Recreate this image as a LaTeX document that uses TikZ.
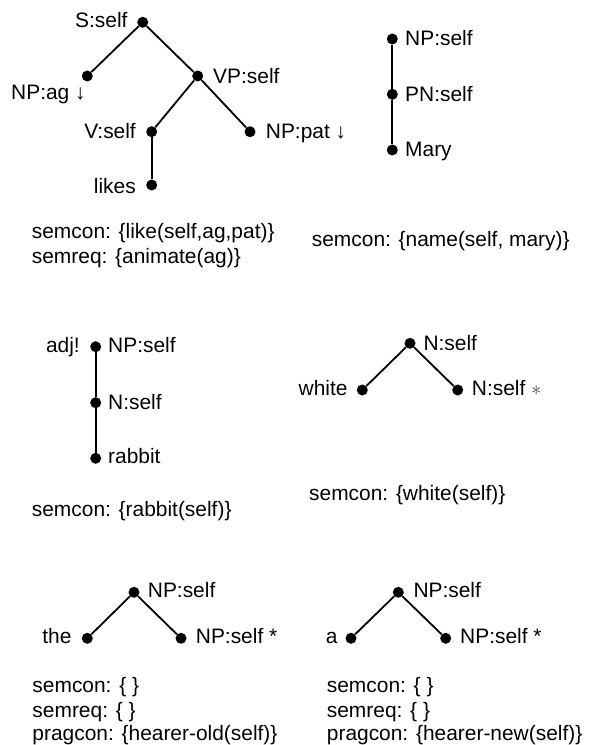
\documentclass[tikz,border=0pt]{standalone}
\usepackage{fontspec}
\setmainfont{Liberation Sans}
\begin{document}
\begin{tikzpicture}[x=1bp,y=-1bp,
  dot/.style={circle,fill=black,inner sep=0pt,minimum size=11bp},
  edge/.style={line width=1.8bp},
  lbl/.style={inner sep=0pt,font=\fontsize{21}{25}\selectfont},
  lw/.style={lbl,anchor=base west},
  le/.style={lbl,anchor=base east}]
\useasboundingbox[fill=white] (0,0) rectangle (589,745);

% Tree 1: likes
\node[dot] (s) at (142.7,22.3) {};
\node[dot] (npag) at (87.3,76) {};
\node[dot] (vp) at (197.7,76) {};
\node[dot] (v) at (151.7,131.7) {};
\node[dot] (likes) at (151.7,185) {};
\node[dot] (nppat) at (250,131.7) {};
\draw[edge] (s) -- (npag);
\draw[edge] (s) -- (vp);
\draw[edge] (vp) -- (v);
\draw[edge] (vp) -- (nppat);
\draw[edge] (v) -- (likes);
\node[le] (ls) at (127.7,27.3) {S:self};
\node[lw] (lnpag) at (11,99.3) {NP:ag ↓};
\node[lw] (lvp) at (213,83.3) {VP:self};
\node[le] (lv) at (136,138.3) {V:self};
\node[le] (llikes) at (136,193) {likes};
\node[lw] (lnppat) at (265.7,138.3) {NP:pat ↓};
\node[lw] (t1a) at (31.7,238.3) {semcon: \{like(self,ag,pat)\}};
\node[lw] (t1b) at (31.7,263.3) {semreq: \{animate(ag)\}};

% Tree 2: Mary
\node[dot] (np2) at (392.3,39) {};
\node[dot] (pn2) at (392.3,94.3) {};
\node[dot] (mary) at (392.3,150) {};
\draw[edge] (np2) -- (pn2);
\draw[edge] (pn2) -- (mary);
\node[lw] (lnp2) at (405,45.7) {NP:self};
\node[lw] (lpn2) at (405,101) {PN:self};
\node[lw] (lmary) at (405,156.7) {Mary};
\node[lw] (t2a) at (311.7,246) {semcon: \{name(self, mary)\}};

% Tree 3: rabbit
\node[dot] (np3) at (95.7,346.7) {};
\node[dot] (n3) at (95.7,402.7) {};
\node[dot] (rab) at (95.7,458.3) {};
\draw[edge] (np3) -- (n3);
\draw[edge] (n3) -- (rab);
\node[le] (ladj) at (80,352.3) {adj!};
\node[lw] (lnp3) at (108,352.3) {NP:self};
\node[lw] (ln3) at (108,409) {N:self};
\node[lw] (lrab) at (108,463.3) {rabbit};
\node[lw] (t3a) at (31.7,516.7) {semcon: \{rabbit(self)\}};

% Tree 4: white
\node[dot] (n4) at (410,343.3) {};
\node[dot] (wh) at (362.3,390) {};
\node[dot] (n4b) at (457.7,390) {};
\draw[edge] (n4) -- (wh);
\draw[edge] (n4) -- (n4b);
\node[lw] (ln4) at (423.3,350.7) {N:self};
\node[le] (lwh) at (347.7,395.7) {white};
\node[lw] (ln4b) at (471.7,395.7) {N:self \textcolor{black!70}{$\ast$}};
\node[lw] (t4a) at (309,500) {semcon: \{white(self)\}};

% Tree 5: the
\node[dot] (np5) at (134,592.3) {};
\node[dot] (the) at (87.3,638.3) {};
\node[dot] (np5b) at (181,638.3) {};
\draw[edge] (np5) -- (the);
\draw[edge] (np5) -- (np5b);
\node[lw] (lnp5) at (147.7,597.7) {NP:self};
\node[le] (lthe) at (71.7,643.3) {the};
\node[lw] (lnp5b) at (195.7,643.3) {NP:self *};
\node[lw] (t5a) at (32.3,692.5) {semcon: \{ \}};
\node[lw] (t5b) at (32.3,717) {semreq: \{ \}};
\node[lw] (t5c) at (32.3,740.5) {pragcon: \{hearer-old(self)\}};

% Tree 6: a
\node[dot] (np6) at (398.3,592.3) {};
\node[dot] (adot) at (351,638.3) {};
\node[dot] (np6b) at (445.7,638.3) {};
\draw[edge] (np6) -- (adot);
\draw[edge] (np6) -- (np6b);
\node[lw] (lnp6) at (413.3,597.7) {NP:self};
\node[le] (la) at (337.7,643.3) {a};
\node[lw] (lnp6b) at (460,643.3) {NP:self *};
\node[lw] (t6a) at (326.7,692.5) {semcon: \{ \}};
\node[lw] (t6b) at (326.7,717) {semreq: \{ \}};
\node[lw] (t6c) at (326.7,740.5) {pragcon: \{hearer-new(self)\}};
\end{tikzpicture}
\end{document}
